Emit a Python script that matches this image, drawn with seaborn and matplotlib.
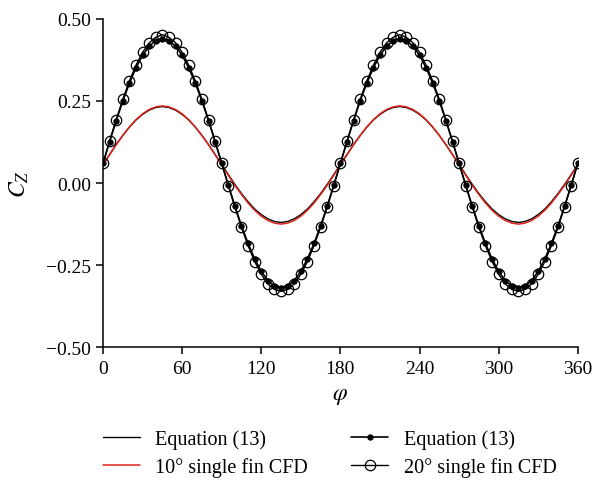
import numpy as np
import pandas as pd
import seaborn as sns
import matplotlib.pyplot as plt

# fin angle phi (deg), one reading every 5 degrees
phi = list(range(0, 365, 5))

# Equation (13), 10 deg fin (thin black line)
eq_10 = [0.057, 0.087, 0.117, 0.145, 0.170, 0.192, 0.209, 0.222, 0.230, 0.233, 0.230, 0.222, 0.209, 0.192, 0.170, 0.145, 0.117, 0.087,
         0.057, 0.026, -0.004, -0.032, -0.057, -0.079, -0.096, -0.109, -0.117, -0.120, -0.117, -0.109, -0.096, -0.079, -0.057, -0.032, -0.004, 0.026,
         0.057, 0.087, 0.117, 0.145, 0.170, 0.192, 0.209, 0.222, 0.230, 0.233, 0.230, 0.222, 0.209, 0.192, 0.170, 0.145, 0.117, 0.087,
         0.057, 0.026, -0.004, -0.032, -0.057, -0.079, -0.096, -0.109, -0.117, -0.120, -0.117, -0.109, -0.096, -0.079, -0.057, -0.032, -0.004, 0.026,
         0.057]

# 10 deg single fin CFD (red line)
cfd_10 = [0.055, 0.086, 0.117, 0.145, 0.171, 0.193, 0.211, 0.224, 0.232, 0.235, 0.232, 0.224, 0.211, 0.193, 0.171, 0.145, 0.117, 0.086,
          0.055, 0.024, -0.007, -0.035, -0.061, -0.083, -0.101, -0.114, -0.122, -0.125, -0.122, -0.114, -0.101, -0.083, -0.061, -0.035, -0.007, 0.024,
          0.055, 0.086, 0.117, 0.145, 0.171, 0.193, 0.211, 0.224, 0.232, 0.235, 0.232, 0.224, 0.211, 0.193, 0.171, 0.145, 0.117, 0.086,
          0.055, 0.024, -0.007, -0.035, -0.061, -0.083, -0.101, -0.114, -0.122, -0.125, -0.122, -0.114, -0.101, -0.083, -0.061, -0.035, -0.007, 0.024,
          0.055]

# Equation (13), 20 deg fin (black line, filled dots)
eq_20 = [0.060, 0.126, 0.190, 0.250, 0.304, 0.351, 0.389, 0.417, 0.434, 0.440, 0.434, 0.417, 0.389, 0.351, 0.304, 0.250, 0.190, 0.126,
         0.060, -0.006, -0.070, -0.130, -0.184, -0.231, -0.269, -0.297, -0.314, -0.320, -0.314, -0.297, -0.269, -0.231, -0.184, -0.130, -0.070, -0.006,
         0.060, 0.126, 0.190, 0.250, 0.304, 0.351, 0.389, 0.417, 0.434, 0.440, 0.434, 0.417, 0.389, 0.351, 0.304, 0.250, 0.190, 0.126,
         0.060, -0.006, -0.070, -0.130, -0.184, -0.231, -0.269, -0.297, -0.314, -0.320, -0.314, -0.297, -0.269, -0.231, -0.184, -0.130, -0.070, -0.006,
         0.060]

# 20 deg single fin CFD (black line, open circles)
cfd_20 = [0.060, 0.128, 0.193, 0.255, 0.311, 0.359, 0.398, 0.427, 0.444, 0.452, 0.444, 0.427, 0.398, 0.359, 0.311, 0.255, 0.193, 0.128,
          0.060, -0.008, -0.073, -0.135, -0.191, -0.239, -0.278, -0.307, -0.324, -0.330, -0.324, -0.307, -0.278, -0.239, -0.191, -0.135, -0.073, -0.008,
          0.060, 0.128, 0.193, 0.255, 0.311, 0.359, 0.398, 0.427, 0.444, 0.452, 0.444, 0.427, 0.398, 0.359, 0.311, 0.255, 0.193, 0.128,
          0.060, -0.008, -0.073, -0.135, -0.191, -0.239, -0.278, -0.307, -0.324, -0.330, -0.324, -0.307, -0.278, -0.239, -0.191, -0.135, -0.073, -0.008,
          0.060]

x_ticks = [0, 60, 120, 180, 240, 300, 360]
y_ticks = [-0.50, -0.25, 0.00, 0.25, 0.50]

sns.set_style('ticks')
plt.rcParams['font.family'] = ['Liberation Serif', 'DejaVu Serif']
plt.rcParams['mathtext.fontset'] = 'stix'
plt.rcParams['axes.unicode_minus'] = True
plt.rcParams['text.color'] = 'black'
plt.rcParams['axes.labelcolor'] = 'black'
plt.rcParams['axes.edgecolor'] = 'black'

df = pd.DataFrame({'phi': phi, 'eq_10': eq_10, 'cfd_10': cfd_10, 'eq_20': eq_20, 'cfd_20': cfd_20})

fig = plt.figure(figsize=(5.92, 4.85), dpi=100)
ax = fig.add_axes([0.174, 0.282, 0.802, 0.677])

sns.lineplot(data=df, x='phi', y='eq_10', ax=ax, color='black', linewidth=1.0, label='Equation (13)')
sns.lineplot(data=df, x='phi', y='cfd_10', ax=ax, color='#e0261b', linewidth=1.1, zorder=3,
             label='10° single fin CFD')
sns.lineplot(data=df, x='phi', y='eq_20', ax=ax, color='black', linewidth=1.2, marker='o',
             markersize=3.8, markeredgecolor='black', zorder=4, label='Equation (13)')
sns.lineplot(data=df, x='phi', y='cfd_20', ax=ax, color='black', linewidth=1.0, marker='o',
             markersize=7.5, markerfacecolor='none', markeredgecolor='black', markeredgewidth=0.9,
             zorder=5, label='20° single fin CFD')

ax.set_xlim(0, 360)
ax.set_ylim(-0.5, 0.5)
ax.set_xticks(x_ticks)
ax.set_yticks(y_ticks)
ax.set_yticklabels([f'{v:.2f}'.replace('-', '\u2212') for v in y_ticks])
ax.tick_params(direction='out', length=5, width=1.1, labelsize=14, colors='black')
ax.tick_params(axis='x', pad=4)
for side in ['left', 'bottom']:
    ax.spines[side].set_linewidth(1.1)
sns.despine(ax=ax)

ax.set_xlabel(r'$\varphi$', fontsize=17, labelpad=6)
ax.set_ylabel(r'$C_Z$', fontsize=17)
ax.yaxis.set_label_coords(-0.152, 0.5)

ax.get_legend().remove()
handles, labels = ax.get_legend_handles_labels()
fig.legend(handles, labels, ncol=2, loc='upper left', bbox_to_anchor=(0.160, 0.130),
           frameon=False, fontsize=14.5, handlelength=1.85, columnspacing=2.15,
           handletextpad=0.75, labelspacing=0.4, borderaxespad=0)

fig.savefig('out.png', dpi=100)
